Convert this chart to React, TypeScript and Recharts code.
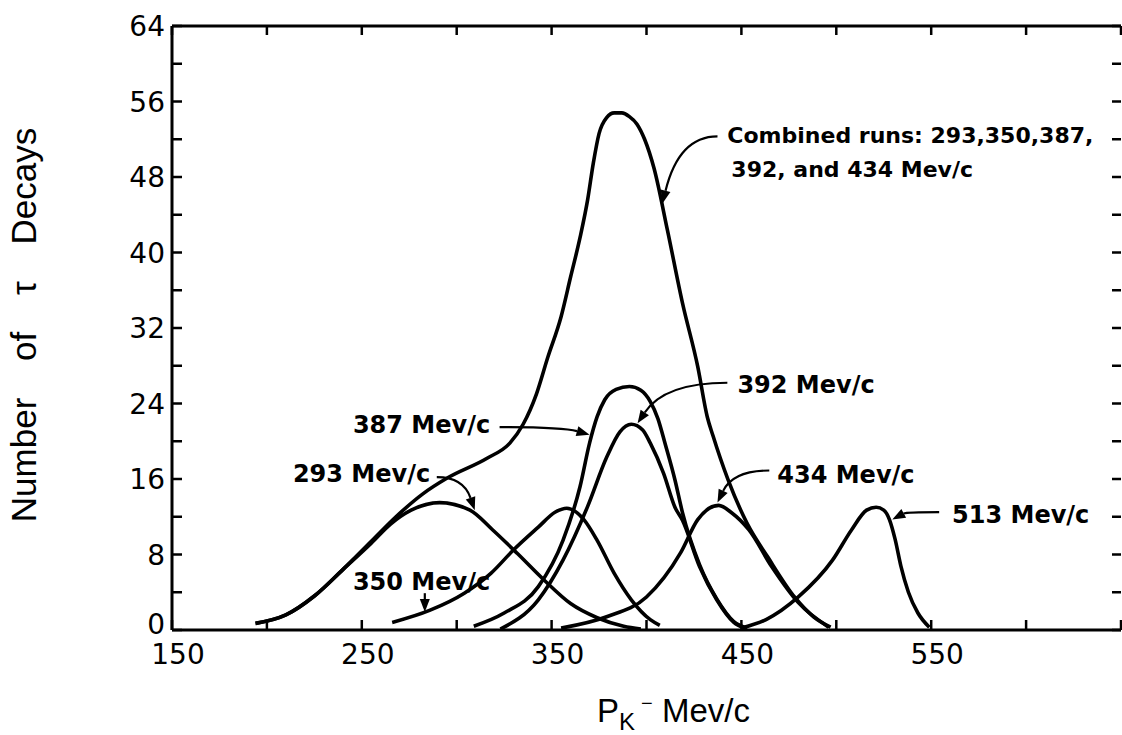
import {
  LineChart,
  Line,
  XAxis,
  YAxis,
  ReferenceLine,
  ReferenceDot,
} from "recharts";

// axis ticks
const xTicks = [150, 200, 250, 300, 350, 400, 450, 500, 550, 600, 650];
const xTickLabels = [150, 250, 350, 450, 550];
const yTicks = [0, 4, 8, 12, 16, 20, 24, 28, 32, 36, 40, 44, 48, 52, 56, 60, 64];
const yTickLabels = [0, 8, 16, 24, 32, 40, 48, 56, 64];

// combined runs curve
const combinedX = [194, 210, 225, 240, 255, 268, 282, 295, 316, 328, 335, 342, 348, 355, 360, 365, 369, 372, 375, 379, 383, 387, 391, 395, 399, 404, 411, 419, 427, 432, 435, 443, 453, 464, 478, 488, 497];
const combinedY = [0.7, 1.6, 3.6, 6.4, 9.4, 12.0, 14.4, 16.1, 18.2, 19.8, 21.8, 25.0, 28.9, 33.2, 37.4, 41.6, 45.6, 49.5, 52.6, 54.3, 54.8, 54.8, 54.4, 53.6, 52.0, 48.9, 42.4, 34.6, 27.9, 22.6, 20.6, 15.9, 11.3, 7.7, 3.5, 1.4, 0.3];

// single runs
const run293X = [194, 210, 225, 240, 255, 265, 276, 291, 307, 319, 332, 346, 360, 374, 388, 397];
const run293Y = [0.7, 1.6, 3.6, 6.4, 9.2, 11.2, 12.7, 13.5, 12.7, 10.6, 8.1, 5.3, 2.8, 1.3, 0.4, 0.1];

const run350X = [266, 286, 304, 318, 330, 343, 352, 358, 367, 374, 383, 392, 402, 407];
const run350Y = [0.8, 2.1, 3.9, 6.0, 8.5, 10.9, 12.5, 12.9, 11.7, 9.5, 6.0, 3.2, 1.1, 0.5];

const run387X = [309, 325, 343, 356, 365, 370, 374, 378, 384, 391, 397, 402, 406, 410, 415, 419, 428, 437, 446, 453];
const run387Y = [0.4, 1.8, 4.6, 9.5, 15.2, 19.8, 22.6, 24.4, 25.5, 25.8, 25.4, 24.2, 22.4, 19.6, 15.9, 12.4, 6.9, 3.3, 0.9, 0.2];

const run392X = [323, 343, 356, 369, 379, 386, 392, 398, 402, 409, 415, 419, 428, 437, 446, 453];
const run392Y = [0.1, 3.2, 7.4, 13.1, 18.3, 21.0, 21.8, 21.2, 19.8, 16.6, 13, 11.6, 6.7, 3.2, 0.8, 0.1];

const run434X = [355, 379, 400, 418, 427, 438, 445, 454, 466, 480, 496];
const run434Y = [0.2, 1.4, 3.5, 8.2, 11.7, 13.2, 12.4, 10.6, 6.7, 2.9, 0.3];

const run513X = [450, 463, 480, 498, 508, 516, 521, 525, 528, 531, 534, 538, 543, 549];
const run513Y = [0.2, 1.1, 3.5, 7.4, 10.6, 12.7, 13.0, 12.7, 11.7, 9.6, 6.8, 4.0, 1.8, 0.3];

const toPoints = (xs: number[], ys: number[]) => xs.map((x, i) => ({ x, y: ys[i] }));

const curves = [
  toPoints(combinedX, combinedY),
  toPoints(run293X, run293Y),
  toPoints(run350X, run350Y),
  toPoints(run387X, run387Y),
  toPoints(run392X, run392Y),
  toPoints(run434X, run434Y),
  toPoints(run513X, run513Y),
];

// annotation labels (data coords of the text's left baseline)
const notes = [
  { lines: ["Combined runs: 293,350,387,", "392, and 434 Mev/c"], x: 442.6, y: 51.6, size: 22 },
  { lines: ["387 Mev/c"], x: 245.3, y: 20.9, size: 24 },
  { lines: ["293 Mev/c"], x: 213.7, y: 15.7, size: 24 },
  { lines: ["350 Mev/c"], x: 245.3, y: 4.2, size: 24 },
  { lines: ["392 Mev/c"], x: 447.9, y: 25.1, size: 24 },
  { lines: ["434 Mev/c"], x: 468.9, y: 15.6, size: 24 },
  { lines: ["513 Mev/c"], x: 561, y: 11.3, size: 24 },
];

// arrows from label to curve
const arrows = [
  { x1: 437.4, y1: 52.3, x2: 408.4, y2: 45.2 },
  { x1: 322.6, y1: 21.5, x2: 370, y2: 20.7 },
  { x1: 289.5, y1: 16.2, x2: 309.5, y2: 12.7 },
  { x1: 283.2, y1: 3.9, x2: 283.2, y2: 1.9 },
  { x1: 442.6, y1: 26.2, x2: 395.3, y2: 21.9 },
  { x1: 464.7, y1: 16.9, x2: 437.4, y2: 13.5 },
  { x1: 554.2, y1: 12.5, x2: 529.5, y2: 11.7 },
];

const tickFont = "'DejaVu Sans', sans-serif";

function BottomTick({ x, y, payload }: any) {
  const v = payload.value;
  return (
    <g>
      <line x1={x} y1={y} x2={x} y2={y - 10} stroke="#000" strokeWidth={2.5} />
      {xTickLabels.includes(v) && (
        <text x={x + 6} y={y + 34} textAnchor="middle" fontSize={28} fontFamily={tickFont} fill="#000">
          {v}
        </text>
      )}
    </g>
  );
}

function TopTick({ x, y }: any) {
  return <line x1={x} y1={y} x2={x} y2={y + 9} stroke="#000" strokeWidth={2.5} />;
}

function LeftTick({ x, y, payload }: any) {
  const v = payload.value;
  // the zero label sits a little above its tick in the original
  const shift = v === 0 ? -6 : 0;
  return (
    <g>
      <line x1={x} y1={y} x2={x + 10} y2={y} stroke="#000" strokeWidth={2.5} />
      {yTickLabels.includes(v) && (
        <text x={x - 7} y={y + 10 + shift} textAnchor="end" fontSize={28} fontFamily={tickFont} fill="#000">
          {v}
        </text>
      )}
    </g>
  );
}

function RightTick({ x, y }: any) {
  return <line x1={x} y1={y} x2={x - 9} y2={y} stroke="#000" strokeWidth={2.5} />;
}

function ArrowShape(p: any) {
  const { x1, y1, x2, y2 } = p;
  const cx = x2 + 0.3 * (x1 - x2);
  const cy = y1;
  const a = Math.atan2(y2 - cy, x2 - cx);
  const len = 13;
  const w = 5;
  const bx = x2 - len * Math.cos(a);
  const by = y2 - len * Math.sin(a);
  const pts = [
    `${x2},${y2}`,
    `${bx + w * Math.sin(a)},${by - w * Math.cos(a)}`,
    `${bx - w * Math.sin(a)},${by + w * Math.cos(a)}`,
  ].join(" ");
  return (
    <g>
      <path d={`M${x1},${y1} Q${cx},${cy} ${bx},${by}`} stroke="#000" strokeWidth={2.2} fill="none" />
      <polygon points={pts} fill="#000" />
    </g>
  );
}

export default function App() {
  return (
    <div style={{ position: "fixed", left: 0, top: 0, width: 1122, height: 735, background: "#fff" }}>
      <LineChart width={1122} height={735} margin={{ top: 25, right: 0, bottom: 104, left: 171 }}>
        <XAxis
          xAxisId="b"
          dataKey="x"
          type="number"
          domain={[150, 650]}
          ticks={xTicks}
          allowDataOverflow
          height={1}
          tickSize={0}
          tickMargin={0}
          tickLine={false}
          axisLine={{ stroke: "#000", strokeWidth: 3 }}
          tick={<BottomTick />}
          interval={0}
        />
        <XAxis
          xAxisId="t"
          orientation="top"
          dataKey="x"
          type="number"
          domain={[150, 650]}
          ticks={xTicks}
          allowDataOverflow
          height={1}
          tickSize={0}
          tickMargin={0}
          tickLine={false}
          axisLine={{ stroke: "#000", strokeWidth: 3 }}
          tick={<TopTick />}
          interval={0}
        />
        <YAxis
          yAxisId="l"
          dataKey="y"
          type="number"
          domain={[0, 64]}
          ticks={yTicks}
          allowDataOverflow
          width={1}
          tickSize={0}
          tickMargin={0}
          tickLine={false}
          axisLine={{ stroke: "#000", strokeWidth: 3 }}
          tick={<LeftTick />}
          interval={0}
        />
        <YAxis
          yAxisId="r"
          orientation="right"
          dataKey="y"
          type="number"
          domain={[0, 64]}
          ticks={yTicks}
          allowDataOverflow
          width={1}
          tickSize={0}
          tickMargin={0}
          tickLine={false}
          axisLine={false}
          tick={<RightTick />}
          interval={0}
        />
        {curves.map((d, i) => (
          <Line
            key={i}
            xAxisId="b"
            yAxisId="l"
            data={d}
            dataKey="y"
            type="monotone"
            stroke="#000"
            strokeWidth={3.6}
            dot={false}
            activeDot={false}
            isAnimationActive={false}
          />
        ))}
        {arrows.map((a, i) => (
          <ReferenceLine
            key={"a" + i}
            xAxisId="b"
            yAxisId="l"
            segment={[
              { x: a.x1, y: a.y1 },
              { x: a.x2, y: a.y2 },
            ]}
            shape={ArrowShape}
          />
        ))}
        {notes.map((n, i) => (
          <ReferenceDot
            key={"n" + i}
            xAxisId="b"
            yAxisId="l"
            x={n.x}
            y={n.y}
            shape={(p: any) => (
              <text
                x={p.cx}
                y={p.cy}
                fontSize={n.size}
                fontWeight="bold"
                fontFamily={tickFont}
                fill="#000"
              >
                {n.lines.map((l, j) => (
                  <tspan key={j} x={p.cx + j * 4} dy={j === 0 ? 0 : 34}>
                    {l}
                  </tspan>
                ))}
              </text>
            )}
          />
        ))}
      </LineChart>
      <div
        style={{
          position: "absolute",
          left: 23,
          top: 325,
          transform: "translate(-50%, -50%) rotate(-90deg)",
          fontFamily: "'Liberation Sans', Arial, sans-serif",
          fontSize: 35,
          lineHeight: 1,
          whiteSpace: "nowrap",
          wordSpacing: 27,
          color: "#000",
        }}
      >
        Number of τ Decays
      </div>
      <div
        style={{
          position: "absolute",
          left: 597,
          top: 694,
          fontFamily: "'Liberation Sans', Arial, sans-serif",
          fontSize: 33,
          lineHeight: "33px",
          whiteSpace: "nowrap",
          color: "#000",
        }}
      >
        P
        <span style={{ fontSize: 24, position: "relative", top: 8 }}>K</span>
        <span style={{ fontSize: 20, position: "relative", top: -12, marginLeft: 6 }}>−</span> Mev/c
      </div>
    </div>
  );
}
